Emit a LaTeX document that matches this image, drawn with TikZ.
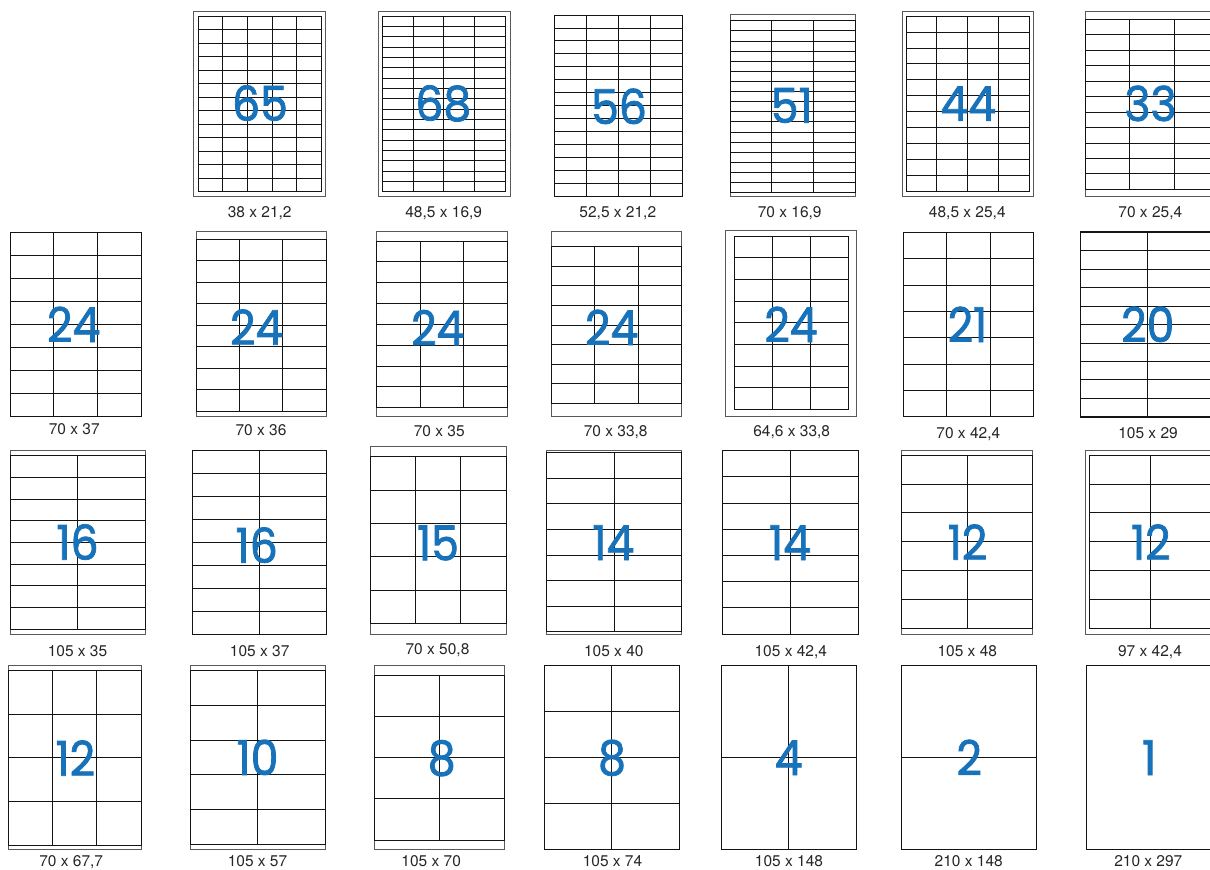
\documentclass[tikz,border=0pt]{standalone}
\usepackage{fontspec}
\newfontfamily\numfont[FakeBold=1.6,FakeStretch=0.92]{Poppins}
\newfontfamily\labfont{TeX Gyre Heros}
\definecolor{numblue}{RGB}{24,114,186}
\newcommand{\gridsheet}[6]{%
  \draw[gridl] (#1,#2) rectangle (#3,#4);
  \ifnum#5>1
    \pgfmathtruncatemacro{\ncm}{#5-1}%
    \foreach \k in {1,...,\ncm}{\draw[gridl] ({#1+(#3-#1)*\k/#5},#2) -- ({#1+(#3-#1)*\k/#5},#4);}%
  \fi
  \ifnum#6>1
    \pgfmathtruncatemacro{\nrm}{#6-1}%
    \foreach \k in {1,...,\nrm}{\draw[gridl] (#1,{#2+(#4-#2)*\k/#6}) -- (#3,{#2+(#4-#2)*\k/#6});}%
  \fi
}
\begin{document}
\begin{tikzpicture}[x=1pt,y=-1pt,
  frame/.style={draw=black!65, line width=0.9pt},
  gridl/.style={draw=black!92, line width=0.85pt},
  bignum/.style={text=numblue, font=\numfont\fontsize{48}{48}\selectfont, inner sep=0pt, anchor=base},
  dim/.style={text=black!85, font=\labfont\fontsize{15.5}{16}\selectfont, inner sep=0pt, anchor=base}]
\useasboundingbox (0,0) rectangle (1210,870);
\clip (0,0) rectangle (1210,870);
% ---------- row 1
\draw[frame] (193.5,11.7) rectangle (325.7,196);
\gridsheet{198.3}{16}{321.3}{191.7}{5}{13}
\node[bignum] (n1) at (260,120.7) {65};
\node[dim] (l1) at (259.7,217.5) {38 x 21,2};

\draw[frame] (378,11.7) rectangle (510,196);
\gridsheet{382.3}{16}{505.3}{191.7}{4}{17}
\node[bignum] (n2) at (443.3,120.7) {68};
\node[dim] (l2) at (443.7,217.5) {48,5 x 16,9};

\gridsheet{554.3}{15}{682.7}{196}{4}{14}
\node[bignum] (n3) at (619,124) {56};
\node[dim] (l3) at (617.8,217.5) {52,5 x 21,2};

\draw[frame] (730.3,14.3) rectangle (855,196);
\gridsheet{730.3}{20.7}{855}{192.7}{3}{17}
\node[bignum] (n4) at (791.7,122.8) {51};
\node[dim] (l4) at (789.7,217.5) {70 x 16,9};

\draw[frame] (902.3,11.7) rectangle (1033.7,196);
\gridsheet{906}{16}{1029.3}{191.7}{4}{11}
\node[bignum] (n5) at (968.3,120.8) {44};
\node[dim] (l5) at (967.3,217.5) {48,5 x 25,4};

\draw[frame] (1085,11.7) rectangle (1218.5,196);
\gridsheet{1085}{19.3}{1218.5}{189.3}{3}{11}
\node[bignum] (n6) at (1150.5,121) {33};
\node[dim] (l6) at (1150.3,217.5) {70 x 25,4};
% ---------- row 2
\gridsheet{10}{232.3}{141}{416.7}{3}{8}
\node[bignum] (n7) at (73.7,342) {24};
\node[dim] (l7) at (74.2,434.7) {70 x 37};

\draw[frame] (196,231.7) rectangle (326.3,416.7);
\gridsheet{196}{239}{326.3}{411}{3}{8}
\node[bignum] (n8) at (256.7,344.7) {24};
\node[dim] (l8) at (261,435.7) {70 x 36};

\draw[frame] (376.7,231.7) rectangle (507.3,416.7);
\gridsheet{376.7}{241}{507.3}{407.7}{3}{8}
\node[bignum] (n9) at (437.8,345.3) {24};
\node[dim] (l9) at (439.2,436.7) {70 x 35};

\draw[frame] (551,231.7) rectangle (681.7,416.7);
\gridsheet{551}{246.7}{681.7}{403.3}{3}{8}
\node[bignum] (n10) at (611.7,345) {24};
\node[dim] (l10) at (615.7,436.7) {70 x 33,8};

\draw[frame] (725.7,230) rectangle (856.7,416.7);
\gridsheet{734}{236}{848.3}{409.3}{3}{8}
\node[bignum] (n11) at (791,342) {24};
\node[dim] (l11) at (791.7,436.7) {64,6 x 33,8};

\gridsheet{903.3}{232.3}{1033.3}{416.7}{3}{7}
\node[bignum] (n12) at (967.5,342) {21};
\node[dim] (l12) at (968.3,438.7) {70 x 42,4};

\gridsheet{1080}{232.3}{1215}{416.7}{2}{10}
\draw[gridl, line width=1.8pt] (1080,232.3) -- (1215,232.3) (1080,416.7) -- (1215,416.7);
\node[bignum] (n13) at (1147.8,342) {20};
\node[dim] (l13) at (1148,438.7) {105 x 29};
% ---------- row 3
\draw[frame] (10,450.7) rectangle (145,634);
\gridsheet{10}{455.7}{145}{629.3}{2}{8}
\node[bignum] (n14) at (77.5,559.7) {16};
\node[dim] (l14) at (77.5,656.7) {105 x 35};

\gridsheet{192.3}{450.7}{326.7}{634}{2}{8}
\node[bignum] (n15) at (256.7,562.8) {16};
\node[dim] (l15) at (259.7,656.7) {105 x 37};

\draw[frame] (370.7,446.7) rectangle (506,634);
\gridsheet{370.7}{456.7}{506}{623.3}{3}{5}
\node[bignum] (n16) at (438,560.3) {15};
\node[dim] (l16) at (437.5,654.7) {70 x 50,8};

\draw[frame] (546.7,450.7) rectangle (681.7,634);
\gridsheet{546.7}{452.7}{681.7}{631.7}{2}{7}
\node[bignum] (n17) at (613.3,560) {14};
\node[dim] (l17) at (613.8,656.7) {105 x 40};

\gridsheet{722.7}{450.7}{858.3}{634}{2}{7}
\node[bignum] (n18) at (790,560) {14};
\node[dim] (l18) at (790.8,656.7) {105 x 42,4};

\draw[frame] (901.7,450.7) rectangle (1032.3,634);
\gridsheet{901.7}{455}{1032.3}{628.7}{2}{6}
\node[bignum] (n19) at (967.5,559.7) {12};
\node[dim] (l19) at (967.3,656.7) {105 x 48};

\draw[frame] (1085,450.7) rectangle (1214.7,634);
\gridsheet{1089.3}{455}{1210.7}{628.7}{2}{6}
\node[bignum] (n20) at (1150.8,559.7) {12};
\node[dim] (l20) at (1150,656.7) {97 x 42,4};
% ---------- row 4
\draw[frame] (8.3,665.7) rectangle (141,849);
\gridsheet{8.3}{670}{141}{845.7}{3}{4}
\node[bignum] (n21) at (75.3,775.7) {12};
\node[dim] (l21) at (71.2,866.5) {70 x 67,7};

\draw[frame] (190,665.7) rectangle (325.7,849);
\gridsheet{190}{670.7}{325.7}{844.3}{2}{5}
\node[bignum] (n22) at (257.5,775) {10};
\node[dim] (l22) at (257.5,866.5) {105 x 57};

\draw[frame] (374.3,665.7) rectangle (504.3,849);
\gridsheet{374.3}{675}{504.3}{840}{2}{4}
\node[bignum] (n23) at (441.7,775.3) {8};
\node[dim] (l23) at (431.2,866.5) {105 x 70};

\gridsheet{544.3}{665.7}{679.3}{849}{2}{4}
\node[bignum] (n24) at (612,775) {8};
\node[dim] (l24) at (612.5,866.5) {105 x 74};

\gridsheet{721}{665.7}{856.7}{849}{2}{2}
\node[bignum] (n25) at (788.7,775) {4};
\node[dim] (l25) at (789,866.5) {105 x 148};

\gridsheet{901.7}{665.7}{1036.7}{849}{1}{2}
\node[bignum] (n26) at (969.2,775) {2};
\node[dim] (l26) at (968.7,866) {210 x 148};

\gridsheet{1086}{665.7}{1221}{849}{1}{1}
\node[bignum] (n27) at (1149.2,775) {1};
\node[dim] (l27) at (1148.3,866) {210 x 297};
\end{tikzpicture}
\end{document}
